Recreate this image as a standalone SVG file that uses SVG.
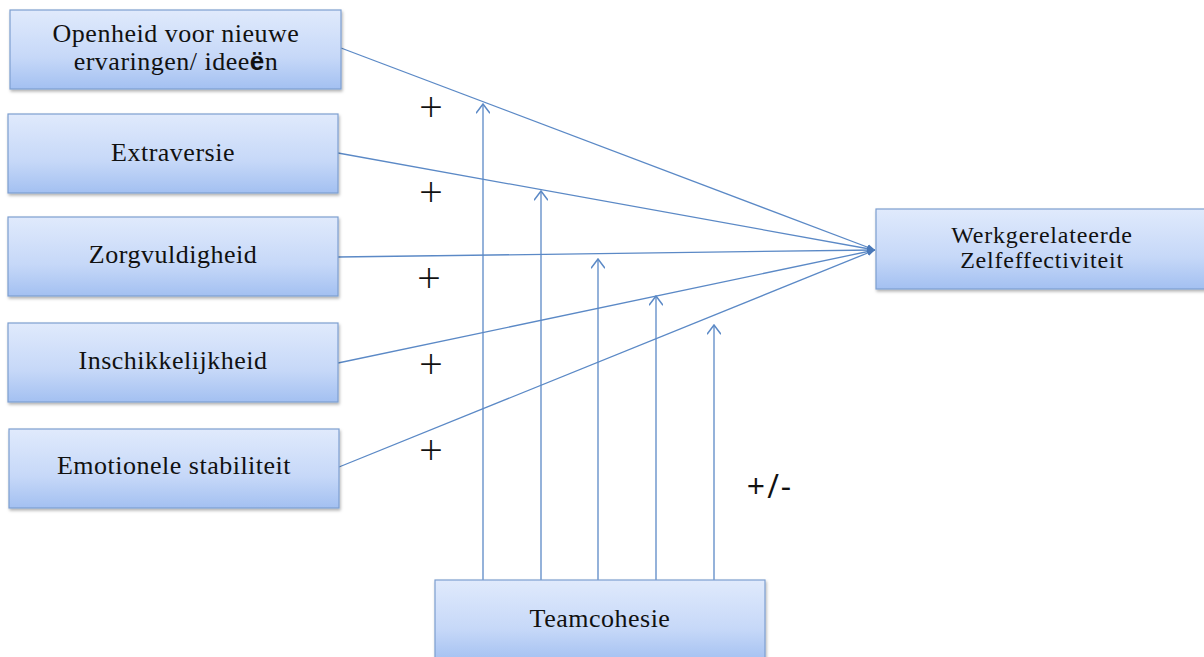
<svg xmlns="http://www.w3.org/2000/svg" width="1204" height="657" viewBox="0 0 1204 657">
<defs>
<linearGradient id="g" x1="0" y1="0" x2="0" y2="1">
<stop offset="0" stop-color="#e0eafc"/>
<stop offset="0.6" stop-color="#c6d8f8"/>
<stop offset="1" stop-color="#a3c0f1"/>
</linearGradient>
<filter id="sh" x="-5%" y="-5%" width="115%" height="120%">
<feDropShadow dx="1" dy="2" stdDeviation="1.5" flood-color="#000" flood-opacity="0.3"/>
</filter>
<marker id="fa" viewBox="0 0 10 10" refX="10" refY="5" markerWidth="8" markerHeight="8" markerUnits="userSpaceOnUse" orient="auto">
<path d="M0,1 L10,5 L0,9 z" fill="#4a78b8"/>
</marker>
<marker id="oa" viewBox="0 0 12 12" refX="6" refY="1" markerWidth="14" markerHeight="14" markerUnits="userSpaceOnUse" orient="0">
<path d="M0,9 L6,1 L12,9" fill="none" stroke="#5b89c6" stroke-width="1.3"/>
</marker>
<style>
.box{fill:url(#g);stroke:#7d9fd0;stroke-width:1.2;filter:url(#sh)}
.t{font-family:"Liberation Serif",serif;font-size:26px;letter-spacing:0.5px;fill:#111;text-anchor:middle}
.t2{font-family:"Liberation Serif",serif;font-size:24px;letter-spacing:0.8px;fill:#111;text-anchor:middle}
.c{stroke:#5b89c6;stroke-width:1.3;fill:none}
.p{font-family:"Open Sans","Liberation Sans",sans-serif;font-weight:300;font-size:42px;fill:#111;text-anchor:middle}
.pm{font-family:"Open Sans","Liberation Sans",sans-serif;font-weight:400;font-size:32px;letter-spacing:2px;fill:#111;text-anchor:middle}
</style>
</defs>
<rect width="1204" height="657" fill="#fff"/>
<g id="connectors">
<line class="c" x1="341" y1="48" x2="875" y2="250" marker-end="url(#fa)"/>
<line class="c" x1="338" y1="153" x2="875" y2="250" marker-end="url(#fa)"/>
<line class="c" x1="338" y1="257" x2="875" y2="250" marker-end="url(#fa)"/>
<line class="c" x1="338" y1="363" x2="875" y2="250" marker-end="url(#fa)"/>
<line class="c" x1="339" y1="467" x2="875" y2="250" marker-end="url(#fa)"/>
<line class="c" x1="483" y1="580" x2="483" y2="104" marker-end="url(#oa)"/>
<line class="c" x1="541" y1="580" x2="541" y2="191" marker-end="url(#oa)"/>
<line class="c" x1="598" y1="580" x2="598" y2="259" marker-end="url(#oa)"/>
<line class="c" x1="656" y1="580" x2="656" y2="296" marker-end="url(#oa)"/>
<line class="c" x1="714" y1="580" x2="714" y2="325" marker-end="url(#oa)"/>
</g>
<g id="n1"><rect class="box" x="10" y="10" width="331" height="79"/><text class="t" x="176" y="42">Openheid voor nieuwe</text><text class="t" x="176" y="70">ervaringen/ idee<tspan font-family="Liberation Sans" font-weight="bold">ë</tspan>n</text></g>
<g id="n2"><rect class="box" x="8" y="114" width="330" height="79"/><text class="t" x="173" y="161">Extraversie</text></g>
<g id="n3"><rect class="box" x="8" y="217" width="330" height="79"/><text class="t" x="173" y="263">Zorgvuldigheid</text></g>
<g id="n4"><rect class="box" x="8" y="323" width="330" height="79"/><text class="t" x="173" y="369">Inschikkelijkheid</text></g>
<g id="n5"><rect class="box" x="9" y="429" width="330" height="79"/><text class="t" x="174" y="474">Emotionele stabiliteit</text></g>
<g id="n6"><rect class="box" x="876" y="209" width="332" height="80"/><text class="t2" x="1042" y="243">Werkgerelateerde</text><text class="t2" x="1042" y="268">Zelfeffectiviteit</text></g>
<g id="n7"><rect class="box" x="435" y="580" width="330" height="82"/><text class="t" x="600" y="627">Teamcohesie</text></g>
<g id="labels">
<text class="p" x="431" y="122">+</text>
<text class="p" x="431" y="207">+</text>
<text class="p" x="429" y="293">+</text>
<text class="p" x="431" y="379">+</text>
<text class="p" x="431" y="465">+</text>
<text class="pm" x="770" y="498">+/-</text>
</g>
</svg>
